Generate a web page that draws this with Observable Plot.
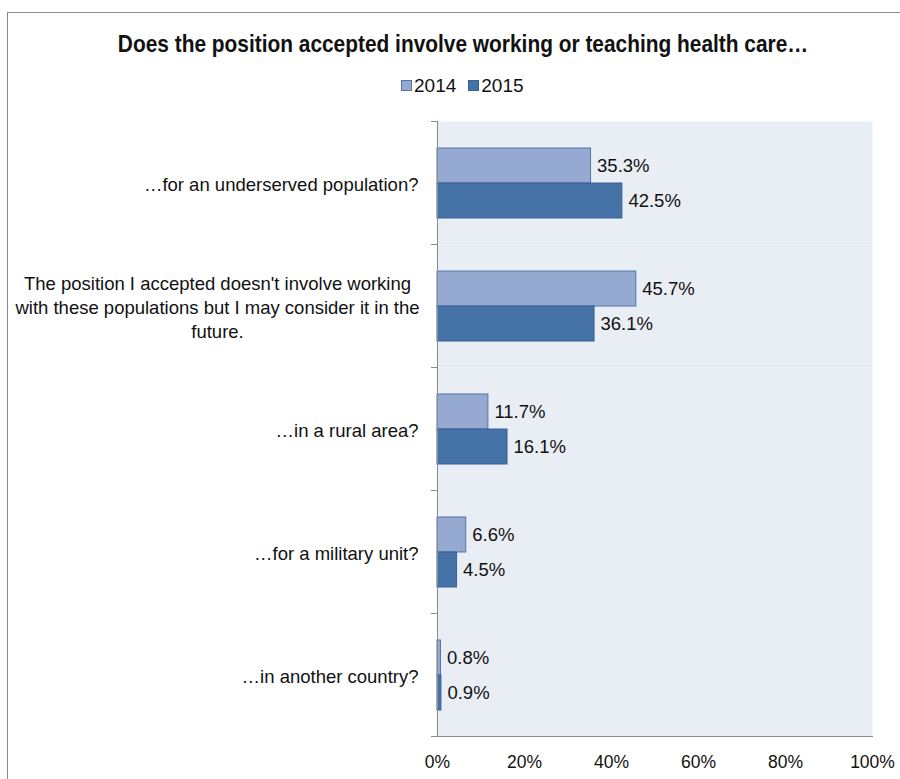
<!DOCTYPE html>
<html><head><meta charset="utf-8">
<script src="https://cdn.jsdelivr.net/npm/d3@7"></script>
<script src="https://cdn.jsdelivr.net/npm/@observablehq/plot@0.6"></script>
<style>
body{margin:0;background:#fff;}
#wrap{position:relative;width:900px;height:779px;overflow:hidden;font-family:"Liberation Sans",Arial,sans-serif;}
#border{position:absolute;left:7px;top:12px;width:1000px;height:1000px;border:1.5px solid #8a8a8a;box-sizing:border-box}
#title{position:absolute;left:0;width:926px;top:31px;text-align:center;font-family:"Liberation Sans",Arial,sans-serif;font-weight:bold;font-size:24px;line-height:26px;color:#111;white-space:nowrap;transform:scaleX(0.87);transform-origin:463px 0}
#legend{position:absolute;top:75px;left:401px;font-size:19px;line-height:22px;color:#111;white-space:nowrap}
#legend span.sw{display:inline-block;width:9px;height:9px;border:1px solid;vertical-align:middle;margin-right:2px;position:relative;top:-1px}
#legend span.item{margin-right:12px}
#chart{position:absolute;left:0;top:100px}
</style></head>
<body>
<div id="wrap">
  <div id="border"></div>
  <div id="title"></div>
  <div id="legend"></div>
  <div id="chart"></div>
</div>
<script>
const titleText = "Does the position accepted involve working or teaching health care\u2026";
const categories = [
  "\u2026for an underserved population?",
  "The position I accepted doesn't involve working\nwith these populations but I may consider it in the\nfuture.",
  "\u2026in a rural area?",
  "\u2026for a military unit?",
  "\u2026in another country?"
];
const years = ["2014", "2015"];
const values2014 = [35.3, 45.7, 11.7, 6.6, 0.8];
const values2015 = [42.5, 36.1, 16.1, 4.5, 0.9];
const xTicks = [0, 20, 40, 60, 80, 100];

const fills = {"2014": "#95A9D1", "2015": "#4573A8"};
const strokes = {"2014": "#5274AA", "2015": "#3B6194"};

document.getElementById("title").textContent = titleText;
const legend = document.getElementById("legend");
years.forEach(y => {
  const item = document.createElement("span");
  item.className = "item";
  const sw = document.createElement("span");
  sw.className = "sw";
  sw.style.background = fills[y];
  sw.style.borderColor = strokes[y];
  item.appendChild(sw);
  item.appendChild(document.createTextNode(y));
  legend.appendChild(item);
});

const data = categories.flatMap((c, i) => [
  {category: c, year: "2014", value: values2014[i]},
  {category: c, year: "2015", value: values2015[i]}
]);
const longCats = categories.filter(c => c.includes("\n"));
const shortCats = categories.filter(c => !c.includes("\n"));

const chart = Plot.plot({
  width: 900,
  height: 679,
  marginLeft: 437,
  marginRight: 28,
  marginTop: 19,
  marginBottom: 42,
  style: {fontFamily: "'Liberation Sans', Arial, sans-serif", fontSize: "18px", color: "#111", background: "transparent", overflow: "visible"},
  x: {domain: [0, 100], ticks: xTicks, tickFormat: d => d + "%"},
  y: {domain: years, paddingInner: 0, paddingOuter: 0.73, axis: null},
  fy: {domain: categories, padding: 0},
  marks: [
    Plot.frame({fill: "#E9EDF4", stroke: null}),
    ...years.map(yr => Plot.barX(data.filter(d => d.year === yr), {
      fy: "category", y: "year", x: "value",
      fill: fills[yr], stroke: strokes[yr], strokeWidth: 1
    })),
    Plot.text(data, {
      fy: "category", y: "year", x: "value",
      text: d => d.value.toFixed(1) + "%",
      textAnchor: "start", dx: 6, fontSize: 18.5, fill: "#111"
    }),
    Plot.ruleX([0], {stroke: "#8c8c8c", strokeWidth: 1}),
    Plot.frame({anchor: "top", stroke: "#8c8c8c", insetLeft: -6, insetRight: 435}),
    Plot.frame({anchor: "bottom", stroke: "#8c8c8c", insetLeft: -6, facetAnchor: "bottom"}),
    Plot.axisFy({anchor: "left", ticks: shortCats, tickSize: 0, tickPadding: 19, fontSize: 18.5, dy: 2, label: null}),
    Plot.axisFy({anchor: "left", ticks: longCats, tickSize: 0, tickPadding: 220, textAnchor: "middle", lineHeight: 1.3, fontSize: 18.5, label: null}),
    Plot.axisX({anchor: "bottom", ticks: xTicks, tickFormat: d => d + "%", tickSize: 0, tickPadding: 19, fontSize: 17.5, label: null})
  ]
});
document.getElementById("chart").appendChild(chart);
</script>
</body></html>
